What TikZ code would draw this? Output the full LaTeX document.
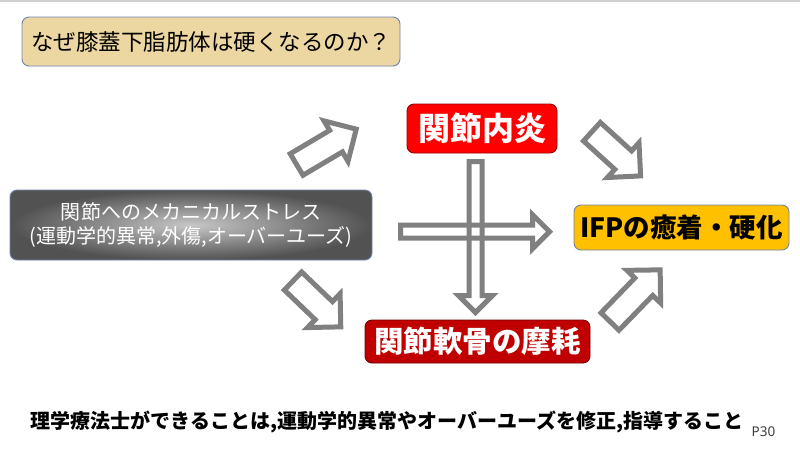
\documentclass[tikz,border=0pt]{standalone}
\usepackage{fontspec}
\setmainfont{Noto Sans CJK JP}
\newfontfamily\latinsans{Noto Sans}
\usetikzlibrary{calc}
\definecolor{tanfill}{RGB}{236,215,162}
\definecolor{bordblue}{RGB}{112,132,176}
\definecolor{arrgray}{RGB}{128,128,128}
\definecolor{redA}{RGB}{255,0,0}
\definecolor{redB}{RGB}{192,0,0}
\definecolor{goldfill}{RGB}{255,192,0}
\definecolor{topline}{RGB}{208,208,208}
% block arrow (outline only) from coordinate #1 (tail) to #2 (tip)
% #3 shaft half width, #4 head half width (= head length)
\newcommand\blockarrow[4]{%
  \path let \p1=($(#2)-(#1)$) in \pgfextra{%
    \pgfmathparse{atan2(\y1,\x1)}\xdef\baang{\pgfmathresult}%
    \pgfmathparse{veclen(\x1,\y1)}\xdef\balen{\pgfmathresult}};
  \draw[barrow, shift={(#1)}, rotate=\baang]
    (0,#3) -- ({\balen-#4},#3) -- ({\balen-#4},#4) -- (\balen,0)
    -- ({\balen-#4},-#4) -- ({\balen-#4},-#3) -- (0,-#3) -- cycle;
}
\begin{document}
\begin{tikzpicture}[x=1pt,y=-1pt,
  box/.style={rectangle, rounded corners=7pt, inner sep=0pt, line width=0.9pt},
  barrow/.style={draw=arrgray, line width=5pt, line join=miter}]
\useasboundingbox (0,0) rectangle (800,451);
\fill[white] (0,0) rectangle (800,451);
\fill[topline] (0,0) rectangle (800,1.6);

% title
\node[box, draw=bordblue, fill=tanfill, minimum width=378pt, minimum height=49pt,
  font=\fontsize{22.5}{26}\selectfont] (title) at (211,41.5) {なぜ膝蓋下脂肪体は硬くなるのか？};

% left box
\node[box, draw=bordblue, inner color=black!22, outer color=black!68,
  minimum width=362pt, minimum height=70pt, text=white, align=center,
  font=\fontsize{20}{23.5}\selectfont] (stress) at (191,225)
  {関節へのメカニカルストレス\\(運動学的異常,外傷,オーバーユーズ)};

% red boxes
\node[box, draw=redA!60!black, fill=redA, minimum width=150pt, minimum height=49pt,
  text=white, font=\fontsize{32}{34}\selectfont\bfseries] (infl) at (482,128.5) {関節内炎};
\node[box, draw=redB!60!black, fill=redB, minimum width=225pt, minimum height=43pt,
  text=white, font=\fontsize{29.5}{33}\selectfont\bfseries] (wear) at (477.5,341.5) {関節軟骨の摩耗};

% yellow box
\node[box, draw=bordblue, fill=goldfill, minimum width=215pt, minimum height=45pt,
  text=black, font=\fontsize{26.5}{30}\selectfont\bfseries] (ifp) at (681.5,227.5) {IFPの癒着・硬化};

% arrow end points
\coordinate (a1s) at (296.6,164.5); \coordinate (a1e) at (356.3,129.1);
\coordinate (a2s) at (293,281);     \coordinate (a2e) at (340.8,326.9);
\coordinate (a3s) at (591.9,131.7); \coordinate (a3e) at (640.7,176);
\coordinate (a4s) at (610,321.5);   \coordinate (a4e) at (660.2,269.8);
\coordinate (hs) at (400.5,231.7);  \coordinate (he) at (549.5,231.7);
\coordinate (vs) at (475.5,161.5);  \coordinate (ve) at (475.5,312.5);

\blockarrow{a1s}{a1e}{12.5}{23.5}
\blockarrow{a2s}{a2e}{12.5}{23.5}
\blockarrow{a3s}{a3e}{12.5}{23.5}
\blockarrow{a4s}{a4e}{12.5}{23.5}
\blockarrow{hs}{he}{6.5}{17}
\blockarrow{vs}{ve}{6.5}{17}

% bottom text
\node[inner sep=0pt, font=\fontsize{20}{24}\selectfont\bfseries] (note) at (387,422)
  {理学療法士ができることは,運動学的異常やオーバーユーズを修正,指導すること};
\node[inner sep=0pt, text=black!75, font=\latinsans\fontsize{13.5}{15}\selectfont] (page) at (763.5,432) {P30};
\end{tikzpicture}
\end{document}
